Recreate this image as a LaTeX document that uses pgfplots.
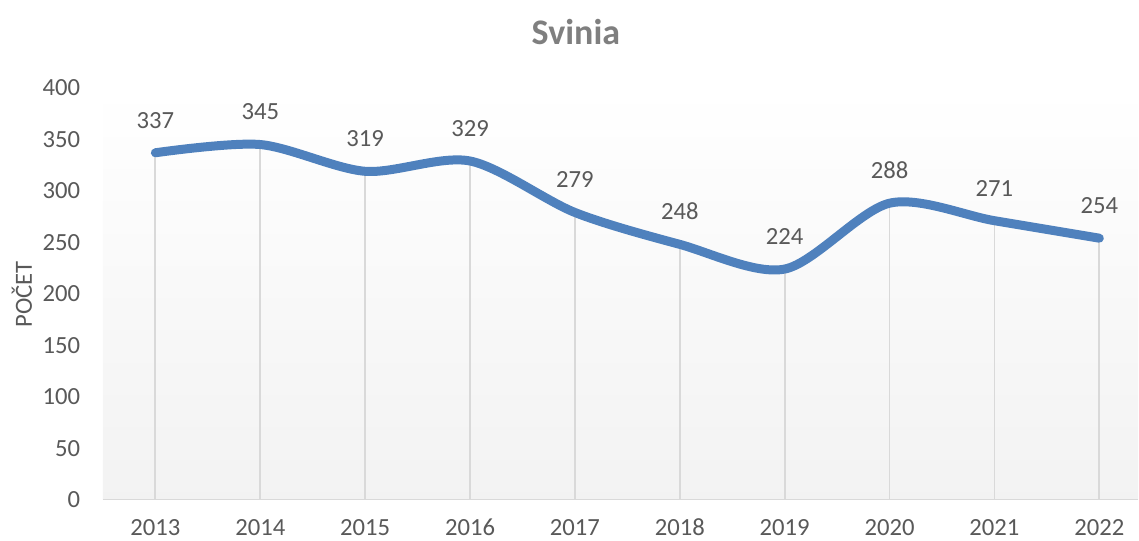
\documentclass[border=0pt]{standalone}
\usepackage{fontspec}
\setmainfont{Carlito}
\usepackage{pgfplots}
\pgfplotsset{compat=1.18}
\definecolor{linec}{HTML}{4F81BD}
\definecolor{tickc}{HTML}{595959}
\definecolor{gridc}{HTML}{D9D9D9}
\definecolor{titlec}{HTML}{7F7F7F}
\begin{document}
\begin{tikzpicture}
\begin{axis}[
    scale only axis,
    width=777pt, height=309pt,
    xmin=-0.5, xmax=9.37,
    ymin=0, ymax=400,
    xtick={0,1,2,3,4,5,6,7,8,9},
    xticklabels={2013,2014,2015,2016,2017,2018,2019,2020,2021,2022},
    ytick={0,50,100,150,200,250,300,350,400},
    axis x line*=bottom, axis y line*=left,
    x axis line style={gridc, line width=1.3pt, -},
    y axis line style={draw=none},
    major tick length=0pt,
    /pgf/number format/assume math mode=true,
    tick label style={font=\fontsize{18.5}{22}\selectfont, text=tickc, inner sep=0pt},
    yticklabel style={anchor=east, xshift=-17pt},
    xticklabel style={anchor=center, yshift=-21pt},
    axis background/.style={top color=white, bottom color=black!5},
    clip=false,
]
\addplot[ycomb, gridc, line width=1.3pt, no marks] coordinates {
    (0,337) (1,345) (2,319) (3,329) (4,279) (5,248) (6,224) (7,288) (8,271) (9,254)
};
\addplot[smooth, linec, line width=6.75pt, line cap=round, no marks,
    nodes near coords,
    every node near coord/.append style={anchor=south, inner sep=0pt, yshift=15pt,
        font=\fontsize{18.5}{22}\selectfont, text=tickc}] coordinates {
    (0,337) (1,345) (2,319) (3,329) (4,279) (5,248) (6,224) (7,288) (8,271) (9,254)
};
\end{axis}
\node[font=\bfseries\fontsize{27}{32}\selectfont, text=titlec] at (355pt,351pt) {Svinia};
\node[rotate=90, font=\fontsize{18.5}{22}\selectfont, text=tickc] at (-60.75pt,154pt) {POČET};
\useasboundingbox (-77.25pt,-30.75pt) rectangle (777pt,375pt);
\end{tikzpicture}
\end{document}
